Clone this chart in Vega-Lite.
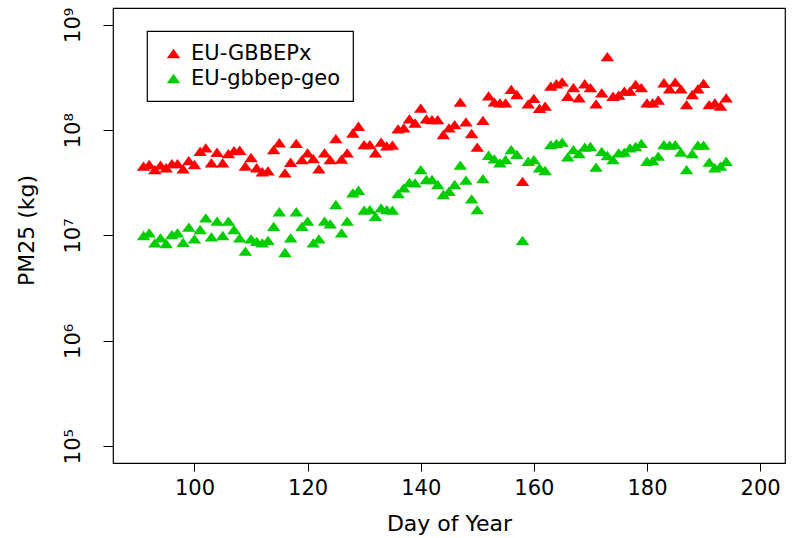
{
  "$schema": "https://vega.github.io/schema/vega-lite/v6.json",
  "width": 672,
  "height": 455,
  "autosize": {"type": "none"},
  "padding": {"left": 113, "top": 8, "right": 7, "bottom": 75},
  "background": "white",
  "config": {
    "font": "DejaVu Sans",
    "view": {"stroke": "black", "strokeWidth": 1.2},
    "axis": {
      "grid": false,
      "domain": false,
      "tickColor": "black",
      "tickWidth": 1,
      "labelColor": "black",
      "titleColor": "black",
      "labelFont": "DejaVu Sans",
      "titleFont": "DejaVu Sans",
      "titleFontWeight": "normal",
      "labelFontSize": 21,
      "titleFontSize": 22
    },
    "legend": {
      "strokeColor": "black",
      "strokeWidth": 1.2,
      "padding": 12,
      "labelFont": "DejaVu Sans",
      "labelFontSize": 21,
      "labelColor": "black",
      "rowPadding": 3,
      "symbolOffset": 4,
      "labelOffset": 7
    }
  },
  "data": {
    "values": [
      {"day": 91, "pm25": 4.55e7, "product": "EU-GBBEPx"},
      {"day": 92, "pm25": 4.72e7, "product": "EU-GBBEPx"},
      {"day": 93, "pm25": 4.23e7, "product": "EU-GBBEPx"},
      {"day": 94, "pm25": 4.65e7, "product": "EU-GBBEPx"},
      {"day": 95, "pm25": 4.4e7, "product": "EU-GBBEPx"},
      {"day": 96, "pm25": 4.82e7, "product": "EU-GBBEPx"},
      {"day": 97, "pm25": 4.82e7, "product": "EU-GBBEPx"},
      {"day": 98, "pm25": 4.3e7, "product": "EU-GBBEPx"},
      {"day": 99, "pm25": 5.15e7, "product": "EU-GBBEPx"},
      {"day": 100, "pm25": 4.72e7, "product": "EU-GBBEPx"},
      {"day": 101, "pm25": 6.3e7, "product": "EU-GBBEPx"},
      {"day": 102, "pm25": 6.8e7, "product": "EU-GBBEPx"},
      {"day": 103, "pm25": 4.9e7, "product": "EU-GBBEPx"},
      {"day": 104, "pm25": 6.17e7, "product": "EU-GBBEPx"},
      {"day": 105, "pm25": 4.9e7, "product": "EU-GBBEPx"},
      {"day": 106, "pm25": 6.0e7, "product": "EU-GBBEPx"},
      {"day": 107, "pm25": 6.4e7, "product": "EU-GBBEPx"},
      {"day": 108, "pm25": 6.45e7, "product": "EU-GBBEPx"},
      {"day": 109, "pm25": 4.55e7, "product": "EU-GBBEPx"},
      {"day": 110, "pm25": 5.5e7, "product": "EU-GBBEPx"},
      {"day": 111, "pm25": 4.4e7, "product": "EU-GBBEPx"},
      {"day": 112, "pm25": 4.03e7, "product": "EU-GBBEPx"},
      {"day": 113, "pm25": 4.1e7, "product": "EU-GBBEPx"},
      {"day": 114, "pm25": 6.55e7, "product": "EU-GBBEPx"},
      {"day": 115, "pm25": 7.6e7, "product": "EU-GBBEPx"},
      {"day": 116, "pm25": 3.94e7, "product": "EU-GBBEPx"},
      {"day": 117, "pm25": 4.96e7, "product": "EU-GBBEPx"},
      {"day": 118, "pm25": 7.48e7, "product": "EU-GBBEPx"},
      {"day": 119, "pm25": 5.25e7, "product": "EU-GBBEPx"},
      {"day": 120, "pm25": 6.1e7, "product": "EU-GBBEPx"},
      {"day": 121, "pm25": 5.37e7, "product": "EU-GBBEPx"},
      {"day": 122, "pm25": 4.3e7, "product": "EU-GBBEPx"},
      {"day": 123, "pm25": 6.1e7, "product": "EU-GBBEPx"},
      {"day": 124, "pm25": 5.25e7, "product": "EU-GBBEPx"},
      {"day": 125, "pm25": 8.3e7, "product": "EU-GBBEPx"},
      {"day": 126, "pm25": 5.3e7, "product": "EU-GBBEPx"},
      {"day": 127, "pm25": 6.1e7, "product": "EU-GBBEPx"},
      {"day": 128, "pm25": 9.4e7, "product": "EU-GBBEPx"},
      {"day": 129, "pm25": 1.09e8, "product": "EU-GBBEPx"},
      {"day": 130, "pm25": 7.3e7, "product": "EU-GBBEPx"},
      {"day": 131, "pm25": 7.3e7, "product": "EU-GBBEPx"},
      {"day": 132, "pm25": 6.1e7, "product": "EU-GBBEPx"},
      {"day": 133, "pm25": 7.7e7, "product": "EU-GBBEPx"},
      {"day": 134, "pm25": 7.1e7, "product": "EU-GBBEPx"},
      {"day": 135, "pm25": 7.2e7, "product": "EU-GBBEPx"},
      {"day": 136, "pm25": 1.03e8, "product": "EU-GBBEPx"},
      {"day": 137, "pm25": 1.05e8, "product": "EU-GBBEPx"},
      {"day": 138, "pm25": 1.28e8, "product": "EU-GBBEPx"},
      {"day": 139, "pm25": 1.17e8, "product": "EU-GBBEPx"},
      {"day": 140, "pm25": 1.62e8, "product": "EU-GBBEPx"},
      {"day": 141, "pm25": 1.28e8, "product": "EU-GBBEPx"},
      {"day": 142, "pm25": 1.26e8, "product": "EU-GBBEPx"},
      {"day": 143, "pm25": 1.26e8, "product": "EU-GBBEPx"},
      {"day": 144, "pm25": 9.1e7, "product": "EU-GBBEPx"},
      {"day": 145, "pm25": 1.05e8, "product": "EU-GBBEPx"},
      {"day": 146, "pm25": 1.13e8, "product": "EU-GBBEPx"},
      {"day": 147, "pm25": 1.85e8, "product": "EU-GBBEPx"},
      {"day": 148, "pm25": 1.2e8, "product": "EU-GBBEPx"},
      {"day": 149, "pm25": 9.3e7, "product": "EU-GBBEPx"},
      {"day": 150, "pm25": 6.9e7, "product": "EU-GBBEPx"},
      {"day": 151, "pm25": 1.24e8, "product": "EU-GBBEPx"},
      {"day": 152, "pm25": 2.12e8, "product": "EU-GBBEPx"},
      {"day": 153, "pm25": 1.86e8, "product": "EU-GBBEPx"},
      {"day": 154, "pm25": 1.82e8, "product": "EU-GBBEPx"},
      {"day": 155, "pm25": 1.82e8, "product": "EU-GBBEPx"},
      {"day": 156, "pm25": 2.44e8, "product": "EU-GBBEPx"},
      {"day": 157, "pm25": 2.18e8, "product": "EU-GBBEPx"},
      {"day": 158, "pm25": 3.27e7, "product": "EU-GBBEPx"},
      {"day": 159, "pm25": 1.78e8, "product": "EU-GBBEPx"},
      {"day": 160, "pm25": 2.0e8, "product": "EU-GBBEPx"},
      {"day": 161, "pm25": 1.61e8, "product": "EU-GBBEPx"},
      {"day": 162, "pm25": 1.69e8, "product": "EU-GBBEPx"},
      {"day": 163, "pm25": 2.62e8, "product": "EU-GBBEPx"},
      {"day": 164, "pm25": 2.76e8, "product": "EU-GBBEPx"},
      {"day": 165, "pm25": 2.88e8, "product": "EU-GBBEPx"},
      {"day": 166, "pm25": 2.1e8, "product": "EU-GBBEPx"},
      {"day": 167, "pm25": 2.53e8, "product": "EU-GBBEPx"},
      {"day": 168, "pm25": 2.03e8, "product": "EU-GBBEPx"},
      {"day": 169, "pm25": 2.76e8, "product": "EU-GBBEPx"},
      {"day": 170, "pm25": 2.53e8, "product": "EU-GBBEPx"},
      {"day": 171, "pm25": 1.78e8, "product": "EU-GBBEPx"},
      {"day": 172, "pm25": 2.26e8, "product": "EU-GBBEPx"},
      {"day": 173, "pm25": 5.0e8, "product": "EU-GBBEPx"},
      {"day": 174, "pm25": 2.1e8, "product": "EU-GBBEPx"},
      {"day": 175, "pm25": 2.15e8, "product": "EU-GBBEPx"},
      {"day": 176, "pm25": 2.35e8, "product": "EU-GBBEPx"},
      {"day": 177, "pm25": 2.35e8, "product": "EU-GBBEPx"},
      {"day": 178, "pm25": 2.72e8, "product": "EU-GBBEPx"},
      {"day": 179, "pm25": 2.53e8, "product": "EU-GBBEPx"},
      {"day": 180, "pm25": 1.82e8, "product": "EU-GBBEPx"},
      {"day": 181, "pm25": 1.82e8, "product": "EU-GBBEPx"},
      {"day": 182, "pm25": 1.93e8, "product": "EU-GBBEPx"},
      {"day": 183, "pm25": 2.82e8, "product": "EU-GBBEPx"},
      {"day": 184, "pm25": 2.47e8, "product": "EU-GBBEPx"},
      {"day": 185, "pm25": 2.86e8, "product": "EU-GBBEPx"},
      {"day": 186, "pm25": 2.47e8, "product": "EU-GBBEPx"},
      {"day": 187, "pm25": 1.75e8, "product": "EU-GBBEPx"},
      {"day": 188, "pm25": 2.18e8, "product": "EU-GBBEPx"},
      {"day": 189, "pm25": 2.47e8, "product": "EU-GBBEPx"},
      {"day": 190, "pm25": 2.78e8, "product": "EU-GBBEPx"},
      {"day": 191, "pm25": 1.75e8, "product": "EU-GBBEPx"},
      {"day": 192, "pm25": 1.82e8, "product": "EU-GBBEPx"},
      {"day": 193, "pm25": 1.69e8, "product": "EU-GBBEPx"},
      {"day": 194, "pm25": 2.03e8, "product": "EU-GBBEPx"},
      {"day": 91, "pm25": 1.0e7, "product": "EU-gbbep-geo"},
      {"day": 92, "pm25": 1.06e7, "product": "EU-gbbep-geo"},
      {"day": 93, "pm25": 8.5e6, "product": "EU-gbbep-geo"},
      {"day": 94, "pm25": 9.5e6, "product": "EU-gbbep-geo"},
      {"day": 95, "pm25": 8.4e6, "product": "EU-gbbep-geo"},
      {"day": 96, "pm25": 1.02e7, "product": "EU-gbbep-geo"},
      {"day": 97, "pm25": 1.06e7, "product": "EU-gbbep-geo"},
      {"day": 98, "pm25": 8.6e6, "product": "EU-gbbep-geo"},
      {"day": 99, "pm25": 1.2e7, "product": "EU-gbbep-geo"},
      {"day": 100, "pm25": 9.3e6, "product": "EU-gbbep-geo"},
      {"day": 101, "pm25": 1.14e7, "product": "EU-gbbep-geo"},
      {"day": 102, "pm25": 1.47e7, "product": "EU-gbbep-geo"},
      {"day": 103, "pm25": 9.7e6, "product": "EU-gbbep-geo"},
      {"day": 104, "pm25": 1.37e7, "product": "EU-gbbep-geo"},
      {"day": 105, "pm25": 1.0e7, "product": "EU-gbbep-geo"},
      {"day": 106, "pm25": 1.37e7, "product": "EU-gbbep-geo"},
      {"day": 107, "pm25": 1.14e7, "product": "EU-gbbep-geo"},
      {"day": 108, "pm25": 9.5e6, "product": "EU-gbbep-geo"},
      {"day": 109, "pm25": 7.1e6, "product": "EU-gbbep-geo"},
      {"day": 110, "pm25": 9.3e6, "product": "EU-gbbep-geo"},
      {"day": 111, "pm25": 8.8e6, "product": "EU-gbbep-geo"},
      {"day": 112, "pm25": 8.5e6, "product": "EU-gbbep-geo"},
      {"day": 113, "pm25": 9.0e6, "product": "EU-gbbep-geo"},
      {"day": 114, "pm25": 1.22e7, "product": "EU-gbbep-geo"},
      {"day": 115, "pm25": 1.68e7, "product": "EU-gbbep-geo"},
      {"day": 116, "pm25": 6.9e6, "product": "EU-gbbep-geo"},
      {"day": 117, "pm25": 9.5e6, "product": "EU-gbbep-geo"},
      {"day": 118, "pm25": 1.68e7, "product": "EU-gbbep-geo"},
      {"day": 119, "pm25": 1.22e7, "product": "EU-gbbep-geo"},
      {"day": 120, "pm25": 1.37e7, "product": "EU-gbbep-geo"},
      {"day": 121, "pm25": 8.5e6, "product": "EU-gbbep-geo"},
      {"day": 122, "pm25": 9.3e6, "product": "EU-gbbep-geo"},
      {"day": 123, "pm25": 1.37e7, "product": "EU-gbbep-geo"},
      {"day": 124, "pm25": 1.29e7, "product": "EU-gbbep-geo"},
      {"day": 125, "pm25": 1.97e7, "product": "EU-gbbep-geo"},
      {"day": 126, "pm25": 1.06e7, "product": "EU-gbbep-geo"},
      {"day": 127, "pm25": 1.37e7, "product": "EU-gbbep-geo"},
      {"day": 128, "pm25": 2.54e7, "product": "EU-gbbep-geo"},
      {"day": 129, "pm25": 2.69e7, "product": "EU-gbbep-geo"},
      {"day": 130, "pm25": 1.74e7, "product": "EU-gbbep-geo"},
      {"day": 131, "pm25": 1.76e7, "product": "EU-gbbep-geo"},
      {"day": 132, "pm25": 1.52e7, "product": "EU-gbbep-geo"},
      {"day": 133, "pm25": 1.83e7, "product": "EU-gbbep-geo"},
      {"day": 134, "pm25": 1.76e7, "product": "EU-gbbep-geo"},
      {"day": 135, "pm25": 1.74e7, "product": "EU-gbbep-geo"},
      {"day": 136, "pm25": 2.5e7, "product": "EU-gbbep-geo"},
      {"day": 137, "pm25": 2.83e7, "product": "EU-gbbep-geo"},
      {"day": 138, "pm25": 3.2e7, "product": "EU-gbbep-geo"},
      {"day": 139, "pm25": 3.16e7, "product": "EU-gbbep-geo"},
      {"day": 140, "pm25": 4.23e7, "product": "EU-gbbep-geo"},
      {"day": 141, "pm25": 3.4e7, "product": "EU-gbbep-geo"},
      {"day": 142, "pm25": 3.4e7, "product": "EU-gbbep-geo"},
      {"day": 143, "pm25": 3.05e7, "product": "EU-gbbep-geo"},
      {"day": 144, "pm25": 2.45e7, "product": "EU-gbbep-geo"},
      {"day": 145, "pm25": 2.63e7, "product": "EU-gbbep-geo"},
      {"day": 146, "pm25": 3.05e7, "product": "EU-gbbep-geo"},
      {"day": 147, "pm25": 4.65e7, "product": "EU-gbbep-geo"},
      {"day": 148, "pm25": 3.35e7, "product": "EU-gbbep-geo"},
      {"day": 149, "pm25": 2.23e7, "product": "EU-gbbep-geo"},
      {"day": 150, "pm25": 1.76e7, "product": "EU-gbbep-geo"},
      {"day": 151, "pm25": 3.47e7, "product": "EU-gbbep-geo"},
      {"day": 152, "pm25": 5.78e7, "product": "EU-gbbep-geo"},
      {"day": 153, "pm25": 5.35e7, "product": "EU-gbbep-geo"},
      {"day": 154, "pm25": 4.9e7, "product": "EU-gbbep-geo"},
      {"day": 155, "pm25": 5.25e7, "product": "EU-gbbep-geo"},
      {"day": 156, "pm25": 6.55e7, "product": "EU-gbbep-geo"},
      {"day": 157, "pm25": 5.88e7, "product": "EU-gbbep-geo"},
      {"day": 158, "pm25": 9.0e6, "product": "EU-gbbep-geo"},
      {"day": 159, "pm25": 5.07e7, "product": "EU-gbbep-geo"},
      {"day": 160, "pm25": 5.25e7, "product": "EU-gbbep-geo"},
      {"day": 161, "pm25": 4.4e7, "product": "EU-gbbep-geo"},
      {"day": 162, "pm25": 4.14e7, "product": "EU-gbbep-geo"},
      {"day": 163, "pm25": 7.3e7, "product": "EU-gbbep-geo"},
      {"day": 164, "pm25": 7.5e7, "product": "EU-gbbep-geo"},
      {"day": 165, "pm25": 7.7e7, "product": "EU-gbbep-geo"},
      {"day": 166, "pm25": 5.58e7, "product": "EU-gbbep-geo"},
      {"day": 167, "pm25": 6.55e7, "product": "EU-gbbep-geo"},
      {"day": 168, "pm25": 6.0e7, "product": "EU-gbbep-geo"},
      {"day": 169, "pm25": 6.9e7, "product": "EU-gbbep-geo"},
      {"day": 170, "pm25": 7.0e7, "product": "EU-gbbep-geo"},
      {"day": 171, "pm25": 4.45e7, "product": "EU-gbbep-geo"},
      {"day": 172, "pm25": 6.3e7, "product": "EU-gbbep-geo"},
      {"day": 173, "pm25": 5.75e7, "product": "EU-gbbep-geo"},
      {"day": 174, "pm25": 5.25e7, "product": "EU-gbbep-geo"},
      {"day": 175, "pm25": 6.1e7, "product": "EU-gbbep-geo"},
      {"day": 176, "pm25": 6.2e7, "product": "EU-gbbep-geo"},
      {"day": 177, "pm25": 6.8e7, "product": "EU-gbbep-geo"},
      {"day": 178, "pm25": 7.0e7, "product": "EU-gbbep-geo"},
      {"day": 179, "pm25": 7.5e7, "product": "EU-gbbep-geo"},
      {"day": 180, "pm25": 5.07e7, "product": "EU-gbbep-geo"},
      {"day": 181, "pm25": 5.15e7, "product": "EU-gbbep-geo"},
      {"day": 182, "pm25": 5.66e7, "product": "EU-gbbep-geo"},
      {"day": 183, "pm25": 7.3e7, "product": "EU-gbbep-geo"},
      {"day": 184, "pm25": 7.2e7, "product": "EU-gbbep-geo"},
      {"day": 185, "pm25": 7.3e7, "product": "EU-gbbep-geo"},
      {"day": 186, "pm25": 6.2e7, "product": "EU-gbbep-geo"},
      {"day": 187, "pm25": 4.23e7, "product": "EU-gbbep-geo"},
      {"day": 188, "pm25": 6.0e7, "product": "EU-gbbep-geo"},
      {"day": 189, "pm25": 7.2e7, "product": "EU-gbbep-geo"},
      {"day": 190, "pm25": 7.2e7, "product": "EU-gbbep-geo"},
      {"day": 191, "pm25": 4.97e7, "product": "EU-gbbep-geo"},
      {"day": 192, "pm25": 4.4e7, "product": "EU-gbbep-geo"},
      {"day": 193, "pm25": 4.55e7, "product": "EU-gbbep-geo"},
      {"day": 194, "pm25": 5.07e7, "product": "EU-gbbep-geo"}
    ]
  },
  "mark": {
    "type": "point",
    "shape": "M0,-0.69L1,0.69L-1,0.69Z",
    "filled": true,
    "opacity": 1,
    "size": 182
  },
  "encoding": {
    "x": {
      "field": "day",
      "type": "quantitative",
      "scale": {"domain": [85.6, 204.4], "nice": false, "zero": false},
      "axis": {
        "title": "Day of Year",
        "values": [100, 120, 140, 160, 180, 200],
        "tickSize": 8,
        "labelPadding": 6,
        "labelBaseline": "top",
        "titleY": 67,
        "titleBaseline": "alphabetic"
      }
    },
    "y": {
      "field": "pm25",
      "type": "quantitative",
      "scale": {"type": "log", "domain": [69183, 1445439771], "nice": false},
      "axis": {
        "title": "PM25 (kg)",
        "values": [100000, 1000000, 10000000, 100000000, 1000000000],
        "labelExpr": "'10' + ['⁰','¹','²','³','⁴','⁵','⁶','⁷','⁸','⁹'][round(log(datum.value) / LN10)]",
        "labelAngle": -90,
        "labelAlign": "center",
        "labelBaseline": "alphabetic",
        "tickSize": 10,
        "labelPadding": 24,
        "titleAngle": -90,
        "titleX": -80,
        "titleY": 222,
        "titleBaseline": "alphabetic"
      }
    },
    "color": {
      "field": "product",
      "type": "nominal",
      "scale": {"domain": ["EU-GBBEPx", "EU-gbbep-geo"], "range": ["#FF0000", "#00CD00"]},
      "legend": {
        "title": null,
        "orient": "none",
        "legendX": 34,
        "legendY": 23,
        "symbolType": "M0,-0.69L1,0.69L-1,0.69Z",
        "symbolSize": 182,
        "symbolStrokeWidth": 0
      }
    }
  }
}
